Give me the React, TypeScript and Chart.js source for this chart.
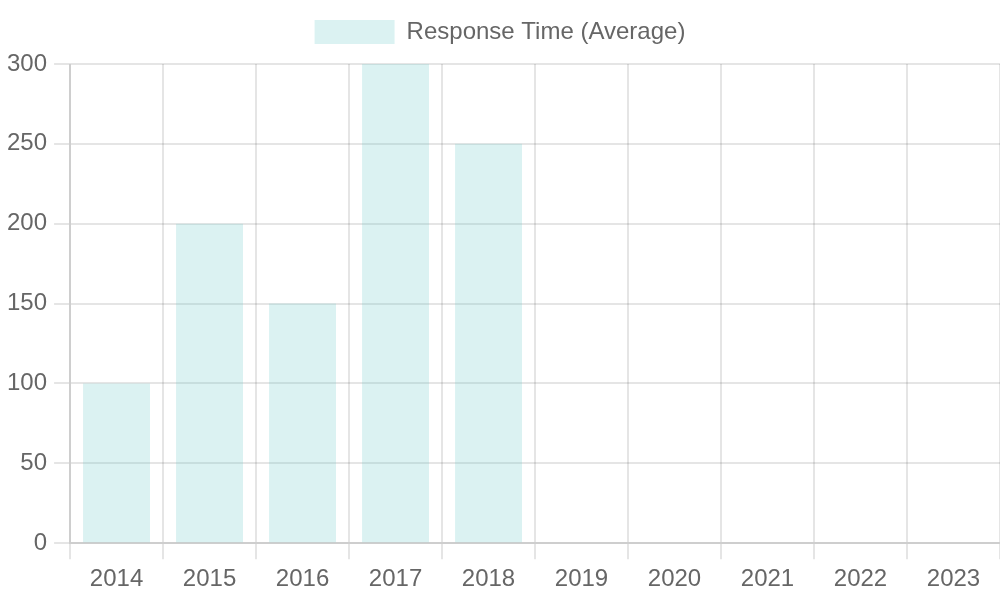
import React, { useEffect, useRef } from "react";
import { Chart, registerables } from "chart.js";

Chart.register(...registerables);

const categories = ["2014", "2015", "2016", "2017", "2018", "2019", "2020", "2021", "2022", "2023"];
const responseTimes = [100, 200, 150, 300, 250, 0, 0, 0, 0, 0];
const seriesLabel = "Response Time (Average)";

const FONT = "'Liberation Sans', Arial, sans-serif";

const legendSpacer = {
  id: "legendSpacer",
  beforeInit(chart: any) {
    const origFit = chart.legend.fit;
    chart.legend.fit = function () {
      origFit.bind(chart.legend)();
      this.height += 10;
    };
  },
};

export default function App() {
  const ref = useRef<HTMLCanvasElement>(null);
  useEffect(() => {
    document.body.style.margin = "0";
    const chart = new Chart(ref.current!, {
      type: "bar",
      data: {
        labels: categories,
        datasets: [
          {
            label: seriesLabel,
            data: responseTimes,
            backgroundColor: "rgba(75, 192, 192, 0.2)",
            borderColor: "rgba(75, 192, 192, 0)",
            borderWidth: 0,
          },
        ],
      },
      plugins: [legendSpacer],
      options: {
        animation: false,
        responsive: false,
        maintainAspectRatio: false,
        layout: { padding: { top: 1, left: 0, right: 0, bottom: 0 } },
        plugins: {
          legend: {
            labels: {
              boxWidth: 80,
              boxHeight: 24,
              padding: 19,
              color: "#666",
              font: { size: 24, family: FONT },
            },
          },
          tooltip: { enabled: false },
        },
        scales: {
          x: {
            ticks: { padding: 6, color: "#666", font: { size: 24, family: FONT } },
            grid: { color: "rgba(0,0,0,0.1)", lineWidth: 2, tickLength: 16 },
            border: { color: "rgba(0,0,0,0.1)", width: 2 },
          },
          y: {
            beginAtZero: true,
            max: 300,
            ticks: { stepSize: 50, padding: 7, color: "#666", font: { size: 24, family: FONT } },
            grid: { color: "rgba(0,0,0,0.1)", lineWidth: 2, tickLength: 16 },
            border: { color: "rgba(0,0,0,0.1)", width: 2 },
          },
        },
      },
    });
    return () => chart.destroy();
  }, []);
  return (
    <div style={{ position: "absolute", left: 0, top: 0, width: 1000, height: 600 }}>
      <canvas ref={ref} width={1000} height={600} style={{ width: 1000, height: 600 }} />
    </div>
  );
}
